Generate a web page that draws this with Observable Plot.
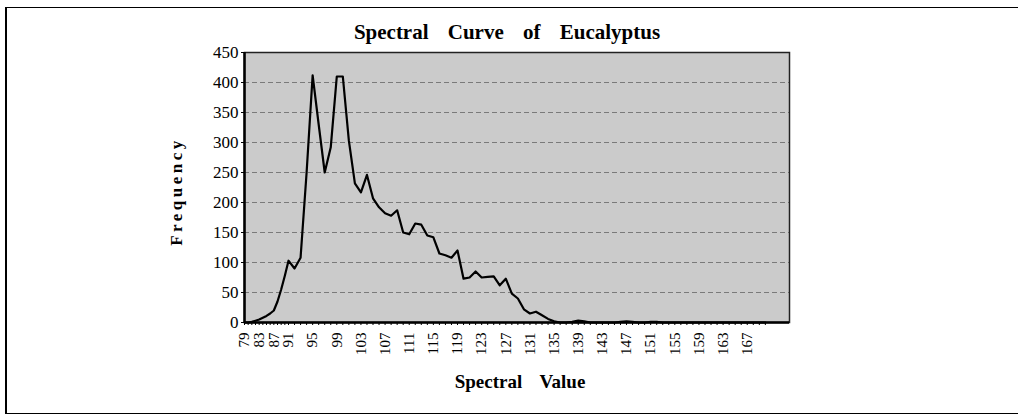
<!DOCTYPE html>
<html><head><meta charset="utf-8">
<script src="https://cdn.jsdelivr.net/npm/d3@7"></script>
<script src="https://cdn.jsdelivr.net/npm/@observablehq/plot@0.6"></script>
<style>
body{margin:0;background:#fff;}
#frame{position:absolute;left:5px;top:7px;width:1100px;height:405px;border-left:2px solid #000;border-top:1.5px solid #000;border-bottom:1.5px solid #000;}
#chart{position:absolute;left:0;top:0;}
</style></head><body><div id="frame"></div><div id="chart"></div>
<script>
const spectralValue = [79,80,81,82,83,84,85,86,87,88,89,90,91,92,93,94,95,96,97,98,99,100,101,102,103,104,105,106,107,108,109,110,111,112,113,114,115,116,117,118,119,120,121,122,123,124,125,126,127,128,129,130,131,132,133,134,135,136,137,138,139,140,141,142,143,144,145,146,147,148,149,150,151,152,153,154,155,156,157,158,159,160,161,162,163,164,165,166,167,168,169,170];
const frequency = [0,0,1,3,5,8,11,15,20,35,55,78,103,90,108,250,412,330,250,292,410,410,303,232,217,246,207,192,182,178,187,150,147,165,163,145,142,115,112,108,120,73,75,85,75,76,77,62,73,48,40,22,15,18,12,6,2,0,0,1,3,2,0,0,0,0,0,1,2,1,0,0,1,1,0,0,0,0,0,0,0,0,0,0,0,0,0,0,0,0,0,0];
const xTickLabels = [79,83,87,91,95,99,103,107,111,115,119,123,127,131,135,139,143,147,151,155,159,163,167];
const yTicks = [0,50,100,150,200,250,300,350,400,450];
const titleText = "Spectral Curve of Eucalyptus";
const xTitle = "Spectral Value";
const yTitle = "Frequency";

const data = spectralValue.map((v, i) => ({v, f: frequency[i]}));
const serif = "'Liberation Serif', 'DejaVu Serif', serif";

const chart = Plot.plot({
  width: 1018, height: 419,
  marginLeft: 244, marginRight: 229, marginTop: 52, marginBottom: 97,
  style: {fontFamily: serif, background: "transparent", color: "#000"},
  x: {type: "linear", domain: [79, 91, 174], range: [244, 288, 789]},
  y: {domain: [0, 450], range: [322, 52]},
  marks: [
    Plot.frame({fill: "#cbcbcb"}),
    Plot.gridY(yTicks.slice(1, -1), {stroke: "#444", strokeOpacity: 0.6, strokeDasharray: "5,3"}),
    Plot.frame({stroke: "#222", strokeWidth: 1.5}),
    Plot.ruleY([0], {stroke: "#000", strokeWidth: 2.5}),
    Plot.ruleX([79], {stroke: "#000", strokeWidth: 2.5}),
    Plot.axisY({ticks: yTicks, tickSize: 3, tickPadding: 3, fontSize: 17, label: null}),
    Plot.axisX({ticks: spectralValue, tickSize: 3, tickFormat: () => "", label: null}),
    Plot.axisX({ticks: xTickLabels, tickSize: 0, tickPadding: 10, tickRotate: -90, fontSize: 15, label: null}),
    Plot.line(data, {x: "v", y: "f", stroke: "#000", strokeWidth: 2.2}),
    Plot.text([titleText], {frameAnchor: "top", dx: -10, dy: -28, fontSize: 21, fontWeight: "bold", className: "title"}),
    Plot.text([xTitle], {frameAnchor: "bottom", dx: 3, dy: 65, fontSize: 19, fontWeight: "bold", className: "xtitle"}),
    Plot.text([yTitle], {frameAnchor: "left", textAnchor: "middle", dx: -68, dy: 4, rotate: -90, fontSize: 17, fontWeight: "bold", className: "ytitle"})
  ]
});
chart.querySelectorAll(".title text").forEach(t => t.style.wordSpacing = "14px");
chart.querySelectorAll(".xtitle text").forEach(t => t.style.wordSpacing = "13px");
chart.querySelectorAll(".ytitle text").forEach(t => t.style.letterSpacing = "3.5px");
document.getElementById("chart").appendChild(chart);
</script></body></html>
